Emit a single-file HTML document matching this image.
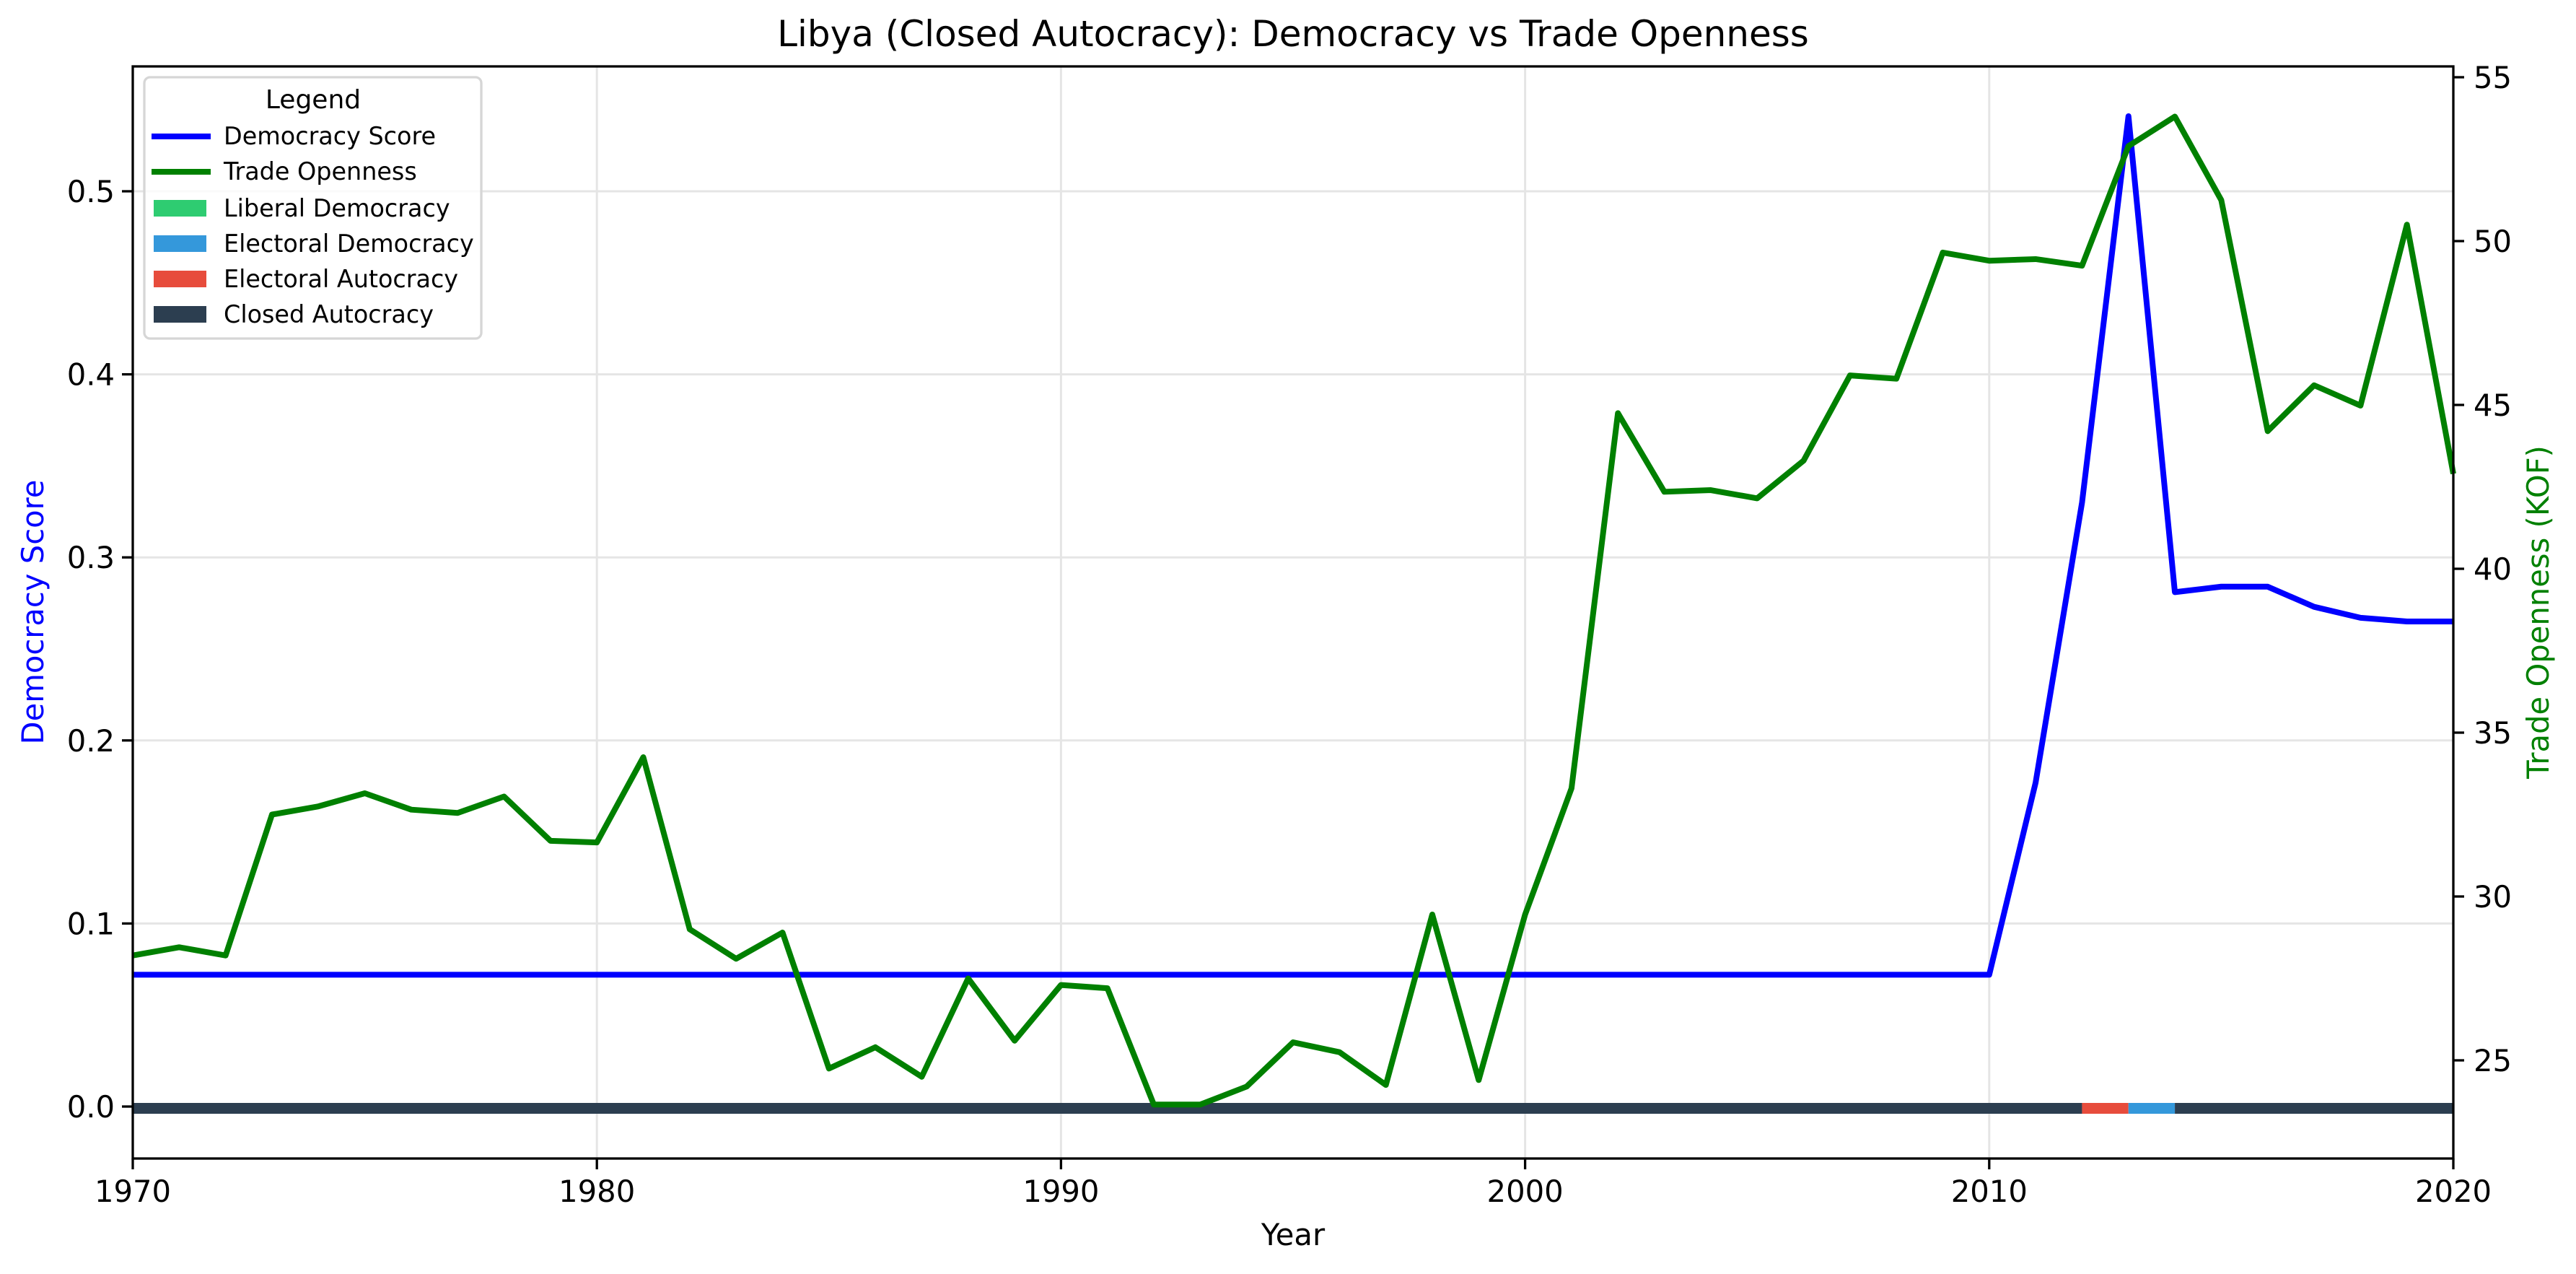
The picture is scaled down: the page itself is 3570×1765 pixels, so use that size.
<!DOCTYPE html>
<html><head><meta charset="utf-8"><style>
html,body{margin:0;padding:0;background:#fff;}
svg{display:block;font-family:"DejaVu Sans","Liberation Sans",sans-serif;}
</style></head><body>
<svg id="chart" width="3570" height="1765" viewBox="0 0 3570 1765" xmlns="http://www.w3.org/2000/svg">
<rect width="3570" height="1765" fill="#fff"/>
<text x="1792" y="64" text-anchor="middle" font-size="50">Libya (Closed Autocracy): Democracy vs Trade Openness</text>
<g id="grid"></g>
<g id="bars"></g>
<g id="lines"></g>
<g id="axes"></g>
<text x="1792" y="1725" text-anchor="middle" font-size="41.7">Year</text>
<text transform="translate(60,848) rotate(-90)" text-anchor="middle" font-size="41.7" fill="#0000ff">Democracy Score</text>
<text transform="translate(3532,848) rotate(-90)" text-anchor="middle" font-size="41.7" fill="#008000">Trade Openness (KOF)</text>
<g id="legend">
<rect x="200" y="107" width="467" height="362" rx="8" fill="#fff" fill-opacity="0.8" stroke="#d6d6d6" stroke-width="3.3"/>
<text x="434" y="150" text-anchor="middle" font-size="36">Legend</text>
<g><line x1="210" y1="189" x2="292" y2="189" stroke="#0000ff" stroke-width="8"/><text x="310" y="200" font-size="33.4">Democracy Score</text></g>
<g><line x1="210" y1="238" x2="292" y2="238" stroke="#008000" stroke-width="8"/><text x="310" y="249" font-size="33.4">Trade Openness</text></g>
<g><rect x="213" y="277" width="73" height="23" fill="#2ecc71"/><text x="310" y="300" font-size="33.4">Liberal Democracy</text></g>
<g><rect x="213" y="326" width="73" height="23" fill="#3498db"/><text x="310" y="349" font-size="33.4">Electoral Democracy</text></g>
<g><rect x="213" y="375" width="73" height="23" fill="#e74c3c"/><text x="310" y="398" font-size="33.4">Electoral Autocracy</text></g>
<g><rect x="213" y="424" width="73" height="23" fill="#2c3e50"/><text x="310" y="447" font-size="33.4">Closed Autocracy</text></g>
</g>
</svg>
<script>
const years = [1970,1971,1972,1973,1974,1975,1976,1977,1978,1979,1980,1981,1982,1983,1984,1985,1986,1987,1988,1989,1990,1991,1992,1993,1994,1995,1996,1997,1998,1999,2000,2001,2002,2003,2004,2005,2006,2007,2008,2009,2010,2011,2012,2013,2014,2015,2016,2017,2018,2019,2020];
const democracy = [0.072,0.072,0.072,0.072,0.072,0.072,0.072,0.072,0.072,0.072,0.072,0.072,0.072,0.072,0.072,0.072,0.072,0.072,0.072,0.072,0.072,0.072,0.072,0.072,0.072,0.072,0.072,0.072,0.072,0.072,0.072,0.072,0.072,0.072,0.072,0.072,0.072,0.072,0.072,0.072,0.072,0.177,0.330,0.541,0.281,0.284,0.284,0.273,0.267,0.265,0.265];
const trade = [28.2,28.45,28.2,32.5,32.75,33.15,32.65,32.55,33.05,31.7,31.65,34.25,29.0,28.1,28.9,24.75,25.4,24.5,27.5,25.6,27.3,27.2,23.65,23.65,24.2,25.55,25.25,24.25,29.45,24.4,29.45,33.3,44.75,42.35,42.4,42.15,43.3,45.9,45.8,49.65,49.4,49.45,49.25,52.9,53.8,51.25,44.2,45.6,44.98,50.5,42.9];
const regimeStart = [1970,2012,2013,2014];
const regimeEnd = [2012,2013,2014,2020];
const regimeType = ["Closed Autocracy","Electoral Autocracy","Electoral Democracy","Closed Autocracy"];
const xTicks = [1970,1980,1990,2000,2010,2020];
const yTicksLeft = [0.0,0.1,0.2,0.3,0.4,0.5];
const yTicksRight = [25,30,35,40,45,50,55];

const L=184,R=3400,T=92,B=1605;
const NS="http://www.w3.org/2000/svg";
const regimeColor={"Liberal Democracy":"#2ecc71","Electoral Democracy":"#3498db","Electoral Autocracy":"#e74c3c","Closed Autocracy":"#2c3e50"};
function xs(v){return L+(v-1970)/(2020-1970)*(R-L);}
function yl(v){return 1533-v*2536;}
function yr(v){return 107+(55-v)*45.4;}
function mk(tag,attrs,parent){const e=document.createElementNS(NS,tag);for(const k in attrs)e.setAttribute(k,attrs[k]);parent.appendChild(e);return e;}
const grid=document.getElementById('grid'),bars=document.getElementById('bars'),lines=document.getElementById('lines'),axes=document.getElementById('axes');
xTicks.forEach(t=>{const g=mk('line',{x1:xs(t),x2:xs(t),y1:T,y2:B,stroke:'#e5e5e5','stroke-width':3},grid);

});
yTicksLeft.forEach(t=>{const g=mk('line',{x1:L,x2:R,y1:yl(t),y2:yl(t),stroke:'#e5e5e5','stroke-width':3},grid);

});
regimeStart.forEach((s,i)=>{const r=mk('rect',{x:xs(s),y:yl(0)-5,width:xs(regimeEnd[i])-xs(s),height:15,fill:regimeColor[regimeType[i]]},bars);

});
const dp=years.map((y,i)=>xs(y)+','+yl(democracy[i])).join(' ');
const tp=years.map((y,i)=>xs(y)+','+yr(trade[i])).join(' ');
const pd=mk('polyline',{points:dp,fill:'none',stroke:'#0000ff','stroke-width':8,'stroke-linejoin':'round'},lines);


const pt=mk('polyline',{points:tp,fill:'none',stroke:'#008000','stroke-width':8,'stroke-linejoin':'round'},lines);


const fr=mk('rect',{x:L,y:T,width:R-L,height:B-T,fill:'none',stroke:'#000','stroke-width':3.3},axes);


xTicks.forEach(t=>{mk('line',{x1:xs(t),x2:xs(t),y1:B,y2:B+15,stroke:'#000','stroke-width':3.3},axes);
const tx=mk('text',{x:xs(t),y:B+60,'text-anchor':'middle','font-size':41.7},axes);tx.textContent=t;

});
yTicksLeft.forEach(t=>{mk('line',{x1:L-15,x2:L,y1:yl(t),y2:yl(t),stroke:'#000','stroke-width':3.3},axes);
const tx=mk('text',{x:L-25,y:yl(t)+15,'text-anchor':'end','font-size':41.7},axes);tx.textContent=t.toFixed(1);

});
yTicksRight.forEach(t=>{mk('line',{x1:R,x2:R+15,y1:yr(t),y2:yr(t),stroke:'#000','stroke-width':3.3},axes);
const tx=mk('text',{x:R+28,y:yr(t)+15,'text-anchor':'start','font-size':41.7},axes);tx.textContent=t;

});
</script>
</body></html>
